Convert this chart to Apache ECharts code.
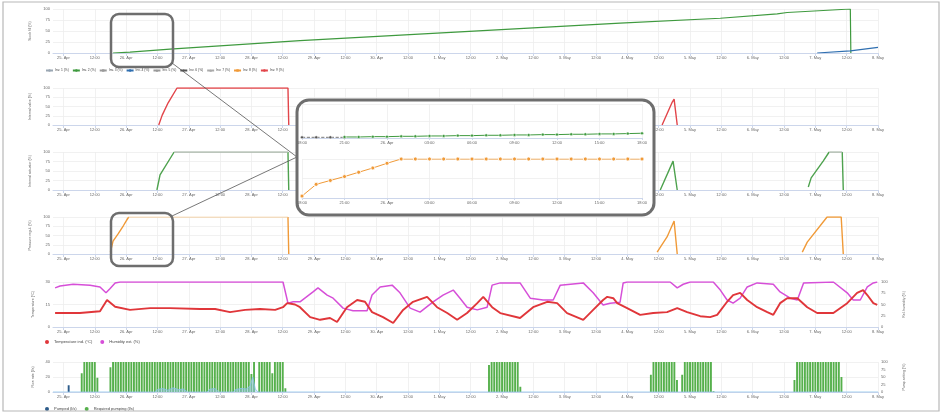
<!DOCTYPE html>
<html><head><meta charset="utf-8">
<script src="https://cdn.jsdelivr.net/npm/echarts@6/dist/echarts.min.js"></script>
<style>html,body{margin:0;padding:0;background:#fff}#c{width:942px;height:414px}</style>
</head><body><div id="c"></div>
<script>
// ---- tick labels ----
const dayLabels = ['25. Apr','26. Apr','27. Apr','28. Apr','29. Apr','30. Apr','1. May','2. May','3. May','4. May','5. May','6. May','7. May','8. May'];
const mainTicks = [0,12,24,36,48,60,72,84,96,108,120,132,144,156,168,180,192,204,216,228,240,252,264,276,288,300,312];
const insetTicks = [18,21,24,27,30,33,36,39,42];

// ---- data: [hour since 25 Apr 00:00, value] ----
const stockGreen = [[19,0],[25.5,2],[40.8,9],[90.6,28],[151.9,48],[213.2,68],[251.6,79],[273.4,89],[277.2,92],[301.4,100],[301.6,0]];
const stockBlue = [[288.7,0],[301.4,5],[312,13]];

const valveRed = [[36.5,0],[37.8,26],[40.1,60],[43.5,100],[86,100],[86.3,0],[87,'-'],[229.3,0],[233.2,62],[233.9,70],[235.1,0]];

const actGreenDark = [[35.8,0],[37,40],[42.4,100],[43,'-'],[86,100],[86.3,0],[87,'-'],[228.6,0],[233.5,76],[235.1,0],[236,'-'],[285.3,8],[286.4,32],[291,76],[293.3,100],[294,'-'],[298.3,100],[298.7,0]];
const actGreenFlat = [[42.4,100],[86,100],[87,'-'],[293.3,100],[298.3,100]];

const regOrangeDark = [[18,5],[19,35],[20,45],[21,55],[22,66],[23,77],[24,89],[25,100],[26,'-'],[86,100],[86.3,0],[87,'-'],[227.4,5],[231.2,46],[233.9,89],[235.1,0],[236,'-'],[283,5],[284.9,32],[292.5,100],[297.9,100],[298.7,0]];
const regOrangeFlat = [[25,100],[86,100]];

const tempRed = [[-3.2,9.3],[6.3,9.3],[14,10.5],[16.7,18],[19.8,13.5],[25.5,11.4],[33.2,12.6],[40.8,12.6],[52.3,12],[58.1,12],[63.8,9.9],[69.6,11.4],[75.3,12],[81.1,11.4],[84.1,13.2],[85.7,15.9],[88.7,15],[90.6,13.2],[94.5,6.6],[98.3,4.8],[102.1,6],[104.8,3.3],[108.6,13.2],[112.5,18],[115.5,16.8],[118.2,9.9],[122.4,6.6],[126.3,2.7],[130.1,11.4],[133.9,16.8],[139.3,20.1],[143.1,13.2],[147,9.3],[150.8,4.8],[154.6,9.3],[158.5,15.9],[160.8,20.1],[164.2,13.2],[167.3,9.3],[174.9,6],[179.9,13.2],[185.3,16.8],[189.1,15.9],[192.9,9.3],[199.1,4.8],[202.9,11.4],[206.7,18],[208.3,20.1],[210.6,19.2],[212.1,15.9],[215.9,12.6],[220.9,8.1],[225.9,9.3],[231.2,9.9],[235.1,12.6],[238.9,9.9],[243.9,7.2],[247.7,6.6],[250.4,8.1],[254.2,16.8],[256.5,21.3],[259.2,22.8],[261.9,18],[265.7,13.2],[269.6,9.9],[271.9,8.1],[274.5,15.9],[277.2,19.2],[281.1,19.2],[284.9,13.2],[288.7,9.3],[294.9,9.3],[300.2,15.9],[304,22.8],[306.3,24.6],[307.9,21.3],[310.2,15.9],[311.7,14.7]];
const humMagenta = [[-3.2,87],[-1.3,91],[3.7,95],[10.2,93],[14,89],[16.3,76],[17.8,85],[19.8,98],[21.7,100],[84.1,100],[86,53],[88,56],[90.6,56],[95.6,78],[97.5,87],[101,71],[103.3,64],[107.1,42],[110.9,36],[116.3,36],[118.2,71],[121.3,89],[125.9,93],[128.9,76],[132.8,42],[136.6,33],[141.6,56],[145.4,71],[149.3,82],[151.9,64],[154.6,44],[158.5,38],[162.3,44],[164.2,93],[167.3,98],[174.9,98],[178.8,64],[183.7,60],[187.6,60],[190.3,93],[199.1,98],[202.9,76],[206.7,49],[209.4,53],[213.2,55],[214.4,98],[215.9,100],[232.4,100],[235.1,87],[237.4,95],[240.1,100],[248.9,100],[251.6,82],[254.2,60],[256.5,53],[259.2,64],[261.9,89],[265.7,98],[271.9,95],[274.5,78],[278.4,64],[281.1,60],[283.5,98],[294.9,100],[300.2,76],[302.5,60],[305.2,60],[307.9,89],[310.2,98],[311.7,100]];

const pumpedBars = [[2,9]];
const reqStarts = [7, 18, 75, 163, 225, 237, 280];
const reqValues = [
  [25,40,40,40,40,40,19],
  [33,40,40,40,40,40,40,40,40,40, 40,40,40,40,40,40,40,40,40,40, 40,40,40,40,40,40,40,40,40,40, 40,40,40,40,40,40,40,40,40,40, 40,40,40,40,40,40,40,40,40,40, 40,40,40,40,24,40],
  [40,40,40,40,40,25,40,40,40,40,5],
  [36,40,40,40,40,40,40,40,40,40,40,40,7],
  [23,40,40,40,40,40,40,40,40,40,16],
  [23,40,40,40,40,40,40,40,40,40,40,40,1],
  [16,40,40,40,40,40,40,40,40,40,40,40,40,40,40,40,40,40,20]
];
const pumpLevel = [[-4,0],[35,0],[36,8],[38,12],[40,6],[42,14],[44,8],[46,10],[47.5,0],[55,0],[56,9],[58,12],[59.5,0],[65,0],[66,8],[68,12],[70,10],[71.5,20],[72.5,50],[73.5,10],[74.5,0],[312,0]];

const insetDark = [[18,2],[19,2],[20,2],[21,2]];
const insetGreen = [[21,3],[22,3],[23,4],[24,4],[25,5],[26,5],[27,6],[28,6],[29,7],[30,7],[31,8],[32,8],[33,9],[34,9],[35,10],[36,10],[37,11],[38,11],[39,12],[40,12],[41,13],[42,14]];
const insetOrange = [[18,5],[19,35],[20,45],[21,55],[22,66],[23,77],[24,89],[25,100],[26,100],[27,100],[28,100],[29,100],[30,100],[31,100],[32,100],[33,100],[34,100],[35,100],[36,100],[37,100],[38,100],[39,100],[40,100],[41,100],[42,100]];

const legendTop = ['Inv. 1 (%)','Inv. 2 (%)','Inv. 3 (%)','Inv. 4 (%)','Inv. 5 (%)','Inv. 6 (%)','Inv. 7 (%)','Inv. 8 (%)','Inv. 9 (%)'];

// ---- build ----
const reqData = [];
reqStarts.forEach((s, i) => reqValues[i].forEach((v, k) => reqData.push([s + k, v])));

const FONT = 'Liberation Sans';
const fmt = v => { const h = ((v % 24) + 24) % 24; return h === 0 ? dayLabels[v / 24] : String(h).padStart(2, '0') + ':00'; };

function xAx(g, extra) {
  return Object.assign({
    type: 'value', gridIndex: g, min: -4, max: 312,
    axisLine: { show: true, lineStyle: { color: '#ccd6eb', width: 1 } },
    axisTick: { show: true, length: 3, customValues: mainTicks, lineStyle: { color: '#ccd6eb' } },
    axisLabel: { fontSize: 4, color: '#666', margin: 3, fontFamily: FONT, customValues: mainTicks, formatter: fmt },
    splitLine: { show: true, lineStyle: { color: '#eeeeee', width: 0.8 } }
  }, extra || {});
}
function yAx(g, max, interval, name, extra) {
  return Object.assign({
    type: 'value', gridIndex: g, min: 0, max: max, interval: interval,
    name: name, nameLocation: 'middle', nameGap: 14,
    nameTextStyle: { fontSize: 3.5, color: '#666', fontFamily: FONT },
    axisLine: { show: false }, axisTick: { show: false },
    axisLabel: { fontSize: 4, color: '#666', margin: 3, fontFamily: FONT },
    splitLine: { show: true, lineStyle: { color: '#eeeeee', width: 0.8 } }
  }, extra || {});
}

const grids = [
  { left: 53, top: 9, width: 825, height: 44 },
  { left: 53, top: 88, width: 825, height: 37 },
  { left: 53, top: 152, width: 825, height: 38 },
  { left: 53, top: 217, width: 825, height: 37 },
  { left: 53, top: 282, width: 825, height: 45 },
  { left: 53, top: 362, width: 825, height: 30 },
  { left: 302, top: 104, width: 340, height: 34 },
  { left: 302, top: 159, width: 340, height: 39 }
];

const insetX = g => ({
  type: 'value', gridIndex: g, min: 18, max: 42, z: 60,
  axisLine: { show: true, lineStyle: { color: '#ccd6eb' } },
  axisTick: { show: true, length: 2, customValues: insetTicks, lineStyle: { color: '#ccd6eb' } },
  axisLabel: { fontSize: 4, color: '#666', margin: 3, fontFamily: FONT, customValues: insetTicks, formatter: fmt },
  splitLine: { show: true, lineStyle: { color: '#eeeeee', width: 0.8 } }
});

const lineS = (name, xi, yi, data, color, width, extra) => Object.assign({
  name: name, type: 'line', xAxisIndex: xi, yAxisIndex: yi, data: data,
  showSymbol: false, symbol: 'none', connectNulls: false, animation: false,
  lineStyle: { color: color, width: width }, itemStyle: { color: color }
}, extra || {});

const series = [
  lineS('Inv. 2 (%)', 0, 0, stockGreen, '#3f9a3f', 1.2),
  lineS('Inv. 4 (%)', 0, 0, stockBlue, '#2f6fb0', 1.2),
  lineS('Inv. 1 (%)', 0, 0, [], '#9aa7b3', 1, { symbol: 'circle' }),
  lineS('Inv. 3 (%)', 0, 0, [], '#9a9a9a', 1, { symbol: 'rect' }),
  lineS('Inv. 5 (%)', 0, 0, [], '#9a9a9a', 1, { symbol: 'triangle' }),
  lineS('Inv. 6 (%)', 0, 0, [], '#555', 1, { symbol: 'diamond' }),
  lineS('Inv. 7 (%)', 0, 0, [], '#aaa', 1, { symbol: 'triangle' }),
  lineS('Inv. 9 (%)', 1, 1, valveRed, '#e2454a', 1.4, { symbol: 'circle' }),
  lineS('Inv. 8 (%)', 3, 3, regOrangeDark, '#f09a38', 1.4, { symbol: 'rect' }),
  lineS('orangeFlat', 3, 3, regOrangeFlat, '#f4c88f', 1.2),
  lineS('greenAct', 2, 2, actGreenDark, '#4ea24e', 1.4),
  lineS('greenFlat', 2, 2, actGreenFlat, '#a9b7a9', 1.3, { z: 3 }),
  lineS('Temperature ind. (°C)', 4, 4, tempRed, '#e0363a', 1.9, { z: 4 }),
  lineS('Humidity ext. (%)', 4, 5, humMagenta, '#d64fd8', 1.5, { z: 3 }),
  { name: 'Required pumping (l/s)', type: 'bar', xAxisIndex: 5, yAxisIndex: 6, data: reqData, barWidth: 1.9, barGap: '-100%', itemStyle: { color: '#56b04c' }, animation: false },
  { name: 'Pumped (l/s)', type: 'bar', xAxisIndex: 5, yAxisIndex: 6, data: pumpedBars, barWidth: 1.9, barGap: '-100%', itemStyle: { color: '#2c5b8a' }, animation: false },
  lineS('Pump level (%)', 5, 7, pumpLevel, '#8cc4ea', 0.8, { z: 5, areaStyle: { color: 'rgba(150,200,240,0.7)' } }),
  lineS('insetDark', 6, 8, insetDark, '#555', 0.8, { z: 60, symbol: 'circle', symbolSize: 3, showSymbol: true, lineStyle: { color: '#555', width: 0.8, type: 'dashed' }, itemStyle: { color: '#555', borderColor: '#fff', borderWidth: 0.5 } }),
  lineS('insetGreen', 6, 8, insetGreen, '#3f9a3f', 1, { z: 60, symbol: 'circle', symbolSize: 3, showSymbol: true, itemStyle: { color: '#3f9a3f', borderColor: '#fff', borderWidth: 0.5 } }),
  lineS('insetOrange', 7, 9, insetOrange, '#f09a38', 1, { z: 60, symbol: 'circle', symbolSize: 4, showSymbol: true, itemStyle: { color: '#f09a38', borderColor: '#fff', borderWidth: 0.8 } })
];

const legendItemColors = ['#9aa7b3','#3f9a3f','#9a9a9a','#2f6fb0','#9a9a9a','#555','#aaa','#f09a38','#e2454a'];

const option = {
  animation: false,
  textStyle: { fontFamily: FONT },
  grid: grids,
  xAxis: [xAx(0), xAx(1), xAx(2), xAx(3), xAx(4), xAx(5), insetX(6), insetX(7)],
  yAxis: [
    yAx(0, 100, 25, 'Stock fill (%)'),
    yAx(1, 100, 25, 'Internal valve (%)'),
    yAx(2, 100, 25, 'Internal actuator (%)'),
    yAx(3, 100, 25, 'Pressure regul. (%)'),
    yAx(4, 30, 15, 'Temperature (°C)'),
    yAx(4, 100, 25, 'Rel. humidity (%)', { position: 'right', nameGap: 24, splitLine: { show: false } }),
    yAx(5, 40, 20, 'Flow rate (l/s)'),
    yAx(5, 100, 25, 'Pump setting (%)', { position: 'right', nameGap: 24, splitLine: { show: false } }),
    yAx(6, 100, 50, '', { z: 60, axisLabel: { show: false } }),
    yAx(7, 100, 50, '', { z: 60, axisLabel: { show: false } })
  ],
  legend: [
    { left: 45, top: 69, itemWidth: 7, itemHeight: 3, itemGap: 3, padding: 0,
      textStyle: { fontSize: 3.3, color: '#444', fontFamily: FONT, padding: [0, 0, 0, -3] },
      data: legendTop.map((n, i) => ({ name: n, itemStyle: { color: legendItemColors[i] } })) },
    { left: 45, top: 340, icon: 'circle', itemWidth: 4, itemHeight: 4, itemGap: 8, padding: 0,
      textStyle: { fontSize: 4, color: '#444', fontFamily: FONT },
      data: ['Temperature ind. (°C)', 'Humidity ext. (%)'] },
    { left: 45, top: 407, icon: 'circle', itemWidth: 4, itemHeight: 4, itemGap: 8, padding: 0,
      textStyle: { fontSize: 4, color: '#444', fontFamily: FONT },
      data: ['Pumped (l/s)', 'Required pumping (l/s)'] }
  ],
  graphic: [
    { type: 'rect', z: 100, silent: true, shape: { x: 3, y: 2, width: 936, height: 409 }, style: { fill: 'none', stroke: '#b8b8b8', lineWidth: 1.2 } },
    { type: 'rect', z: 40, silent: true, shape: { x: 111, y: 14, width: 62, height: 53, r: 8 }, style: { fill: 'none', stroke: '#6e6e6e', lineWidth: 2.5 } },
    { type: 'rect', z: 40, silent: true, shape: { x: 111, y: 213, width: 62, height: 53, r: 8 }, style: { fill: 'none', stroke: '#6e6e6e', lineWidth: 2.5 } },
    { type: 'line', z: 40, silent: true, shape: { x1: 172, y1: 63, x2: 297, y2: 157 }, style: { stroke: '#555', lineWidth: 0.8 } },
    { type: 'line', z: 40, silent: true, shape: { x1: 172, y1: 216, x2: 297, y2: 157 }, style: { stroke: '#555', lineWidth: 0.8 } },
    { type: 'rect', z: 50, silent: true, shape: { x: 297, y: 100, width: 357, height: 115, r: 12 }, style: { fill: '#fff', stroke: '#6e6e6e', lineWidth: 3 } }
  ],
  series: series
};

const chart = echarts.init(document.getElementById('c'), null, { renderer: 'canvas' });
chart.setOption(option);
</script></body></html>
